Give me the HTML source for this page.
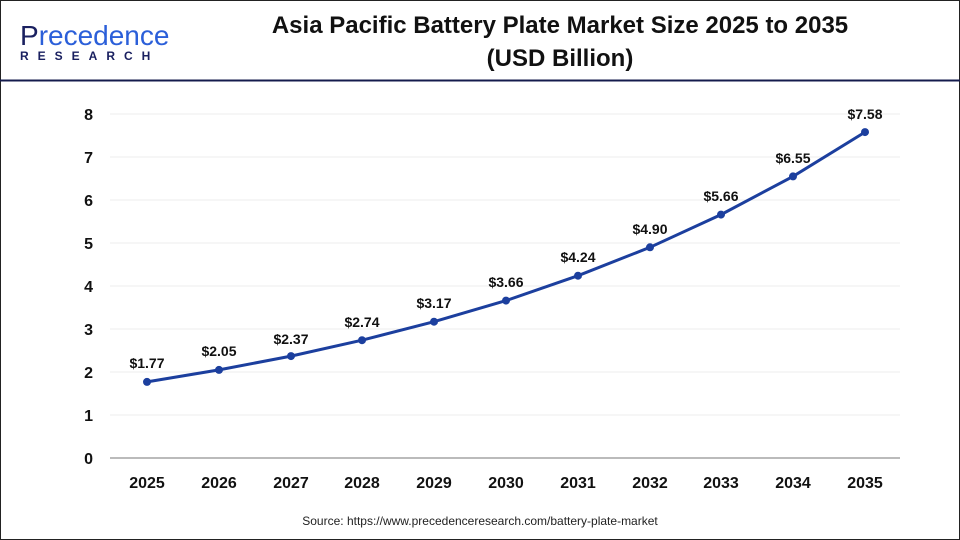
<!DOCTYPE html>
<html><head><meta charset="utf-8"><style>
body{margin:0;background:#fff}
svg{display:block;font-family:"Liberation Sans",Arial,sans-serif}
</style></head><body>
<svg width="960" height="540" viewBox="0 0 960 540">
<rect x="0.5" y="0.5" width="959" height="539" fill="#fff" stroke="#222" stroke-width="1"/>
<line x1="0" y1="80.5" x2="960" y2="80.5" stroke="#141b4d" stroke-width="2"/>
<text x="20" y="45" font-size="28" fill="#1a2060">P<tspan fill="#2b5fd9">recedence</tspan></text>
<text x="20" y="60" font-size="12" font-weight="bold" fill="#1a2060" letter-spacing="9">RESEARCH</text>
<text x="560" y="33" font-size="24" font-weight="bold" fill="#111" text-anchor="middle">Asia Pacific Battery Plate Market Size 2025 to 2035</text>
<text x="560" y="66" font-size="24" font-weight="bold" fill="#111" text-anchor="middle">(USD Billion)</text>
<g stroke="#ececec" stroke-width="1">
<line x1="110" x2="900" y1="415" y2="415"/><line x1="110" x2="900" y1="372" y2="372"/>
<line x1="110" x2="900" y1="329" y2="329"/><line x1="110" x2="900" y1="286" y2="286"/>
<line x1="110" x2="900" y1="243" y2="243"/><line x1="110" x2="900" y1="200" y2="200"/>
<line x1="110" x2="900" y1="157" y2="157"/><line x1="110" x2="900" y1="114" y2="114"/>
</g>
<line x1="110" x2="900" y1="458" y2="458" stroke="#bbb" stroke-width="2"/>
<g font-size="16" font-weight="bold" fill="#111" text-anchor="end">
<text x="93" y="464">0</text><text x="93" y="421">1</text><text x="93" y="378">2</text><text x="93" y="335">3</text><text x="93" y="292">4</text><text x="93" y="249">5</text><text x="93" y="206">6</text><text x="93" y="163">7</text><text x="93" y="120">8</text>
</g>
<g font-size="16" font-weight="bold" fill="#111" text-anchor="middle">
<text x="147" y="488">2025</text><text x="219" y="488">2026</text><text x="291" y="488">2027</text><text x="362" y="488">2028</text><text x="434" y="488">2029</text><text x="506" y="488">2030</text><text x="578" y="488">2031</text><text x="650" y="488">2032</text><text x="721" y="488">2033</text><text x="793" y="488">2034</text><text x="865" y="488">2035</text>
</g>
<polyline fill="none" stroke="#1c3f9e" stroke-width="3" points="147,381.9 219,369.9 291,356.1 362,340.2 434,321.7 506,300.6 578,275.7 650,247.3 721,214.6 793,176.4 865,132.1"/>
<g fill="#1c3f9e">
<circle cx="147" cy="381.9" r="4"/><circle cx="219" cy="369.9" r="4"/><circle cx="291" cy="356.1" r="4"/><circle cx="362" cy="340.2" r="4"/><circle cx="434" cy="321.7" r="4"/><circle cx="506" cy="300.6" r="4"/><circle cx="578" cy="275.7" r="4"/><circle cx="650" cy="247.3" r="4"/><circle cx="721" cy="214.6" r="4"/><circle cx="793" cy="176.4" r="4"/><circle cx="865" cy="132.1" r="4"/>
</g>
<g font-size="14" font-weight="bold" fill="#111" text-anchor="middle">
<text x="147" y="368">$1.77</text><text x="219" y="356">$2.05</text><text x="291" y="344">$2.37</text><text x="362" y="327">$2.74</text><text x="434" y="308">$3.17</text><text x="506" y="287">$3.66</text><text x="578" y="262">$4.24</text><text x="650" y="234">$4.90</text><text x="721" y="201">$5.66</text><text x="793" y="163">$6.55</text><text x="865" y="119">$7.58</text>
</g>
<text x="480" y="525" font-size="12" fill="#222" text-anchor="middle">Source: https://www.precedenceresearch.com/battery-plate-market</text>
</svg>
</body></html>
